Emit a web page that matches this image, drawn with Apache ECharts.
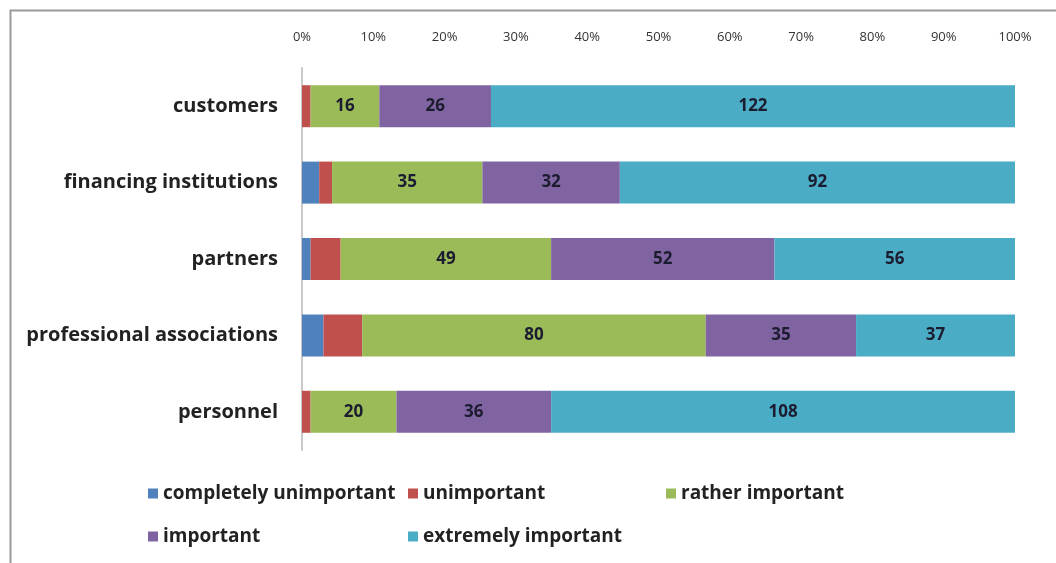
<!DOCTYPE html>
<html><head><meta charset="utf-8">
<script src="https://cdn.jsdelivr.net/npm/echarts@6/dist/echarts.min.js"></script>
<style>html,body{margin:0;padding:0;background:#fff}#c{width:1056px;height:563px}</style>
</head><body><div id="c"></div>
<script>
const categories = ['customers','financing institutions','partners','professional associations','personnel'];
const seriesNames = ['completely unimportant','unimportant','rather important','important','extremely important'];
const completelyUnimportant = [0, 4, 2, 5, 0];
const unimportant = [2, 3, 7, 9, 2];
const ratherImportant = [16, 35, 49, 80, 20];
const important = [26, 32, 52, 35, 36];
const extremelyImportant = [122, 92, 56, 37, 108];
const tickLabels = ['0%','10%','20%','30%','40%','50%','60%','70%','80%','90%','100%'];
const colors = ['#4f81bd','#c0504d','#9bbb59','#8064a2','#4bacc6'];

const counts = [completelyUnimportant, unimportant, ratherImportant, important, extremelyImportant];
const totals = categories.map((_, i) => counts.reduce((s, a) => s + a[i], 0));
const font = '"Open Sans", Lato, sans-serif';
const legendPos = [[148, 484], [408, 484], [666, 484], [148, 527], [408, 527]];

const chart = echarts.init(document.getElementById('c'));
chart.setOption({
  animation: false,
  color: colors,
  graphic: [{type:'rect', shape:{x:10.5,y:10.5,width:1100,height:600}, style:{fill:'none', stroke:'#9a9a9a', lineWidth:2}}],
  grid: {left: 302, right: 41, top: 68, bottom: 113, containLabel: false},
  xAxis: {
    type: 'value', position: 'top', min: 0, max: 1, interval: 0.1,
    axisLine: {show: false}, axisTick: {show: false}, splitLine: {show: false},
    axisLabel: {margin: 24, fontSize: 13, color: '#333', fontFamily: font,
      formatter: v => tickLabels[Math.round(v * 10)]}
  },
  yAxis: {
    type: 'category', data: categories, inverse: true,
    axisLine: {show: true, lineStyle: {color: '#c8c8c8', width: 2}},
    axisTick: {show: false},
    axisLabel: {margin: 24, fontSize: 20, fontWeight: 'bold', color: '#222', fontFamily: font}
  },
  legend: seriesNames.map((n, i) => ({
    left: legendPos[i][0], top: legendPos[i][1], itemWidth: 10, itemHeight: 10,
    icon: 'rect', selectedMode: false, padding: 0, itemGap: 4,
    textStyle: {fontSize: 19, fontWeight: 'bold', color: '#222', fontFamily: font},
    data: [n]
  })),
  series: counts.map((arr, si) => ({
    name: seriesNames[si], type: 'bar', stack: 'total', barWidth: 42,
    data: arr.map((v, i) => v / totals[i]),
    label: {
      show: si >= 2, position: 'inside', fontSize: 17, fontWeight: 'bold', color: '#1c1c30', fontFamily: font,
      formatter: p => String(counts[si][p.dataIndex])
    }
  }))
});
</script></body></html>
